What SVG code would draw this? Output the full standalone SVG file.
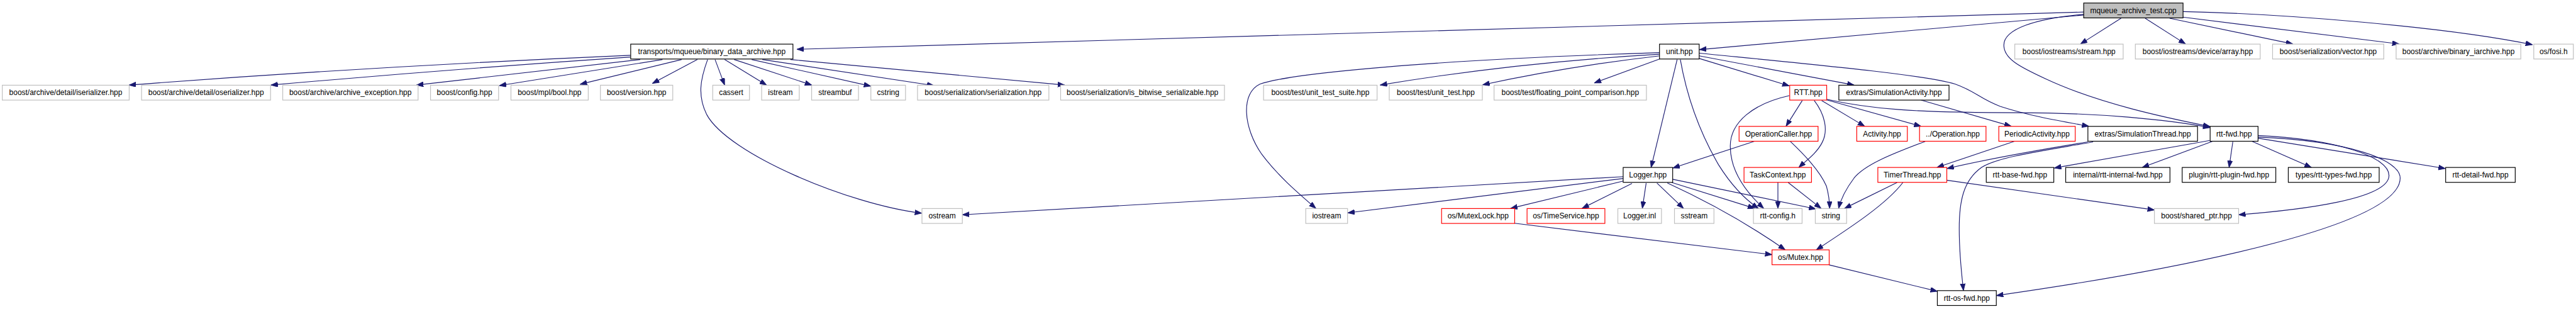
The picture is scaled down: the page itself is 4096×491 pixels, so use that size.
<svg xmlns="http://www.w3.org/2000/svg" width="4096" height="491" viewBox="0 0 4096 491">
<defs>
<style>
.e{fill:none;stroke:#191970;stroke-width:1.35;marker-end:url(#ah)}
.n rect{fill:#fff;stroke-width:1.4}
.g rect{stroke:#bfbfbf}
.b rect{stroke:#000}
.r rect{stroke:#ff0000}
.n text{font-family:"Liberation Sans",Arial,sans-serif;font-size:14.2px;fill:#000;text-anchor:middle}
</style>
<marker id="ah" markerUnits="userSpaceOnUse" viewBox="0 0 14 10" markerWidth="14" markerHeight="10" refX="13" refY="4.75" orient="auto"><path d="M0,0 L13,4.75 L0,9.5 z" fill="#191970" stroke="#191970" stroke-width="1"/></marker>
</defs>
<rect width="4096" height="491" fill="#fff"/>
<g transform="scale(0.84471)">
<g id="edges">
<path class="e" d="M3922,22.7 L1500,92.7"/>
<path class="e" d="M3922,28.3 L3199,93.3"/>
<path class="e" d="M3922,27 C3830,35 3772,55 3772,85 C3772,110 3800,125 3850,148 C3950,195 4080,222 4160,238"/>
<path class="e" d="M3992.6,34.3 L3916.3,82.7"/>
<path class="e" d="M4038,34.3 L4114,82.7"/>
<path class="e" d="M4084,34.3 L4316,82.7"/>
<path class="e" d="M4109,32.3 L4516,82.7"/>
<path class="e" d="M4109,21.7 C4300,26 4600,50 4767,84"/>
<path class="e" d="M1187,104 Q700,125 243,160"/>
<path class="e" d="M1187,107.3 Q850,130 510,160"/>
<path class="e" d="M1205,112 L784,160"/>
<path class="e" d="M1247,112 L940,161"/>
<path class="e" d="M1283,112 L1092,158.5"/>
<path class="e" d="M1312.7,112 L1228,157"/>
<path class="e" d="M1346,112 L1364,160"/>
<path class="e" d="M1364,112 L1443,160"/>
<path class="e" d="M1382,112 L1528,160"/>
<path class="e" d="M1415,112 L1639,162"/>
<path class="e" d="M1435,112 L1758,161"/>
<path class="e" d="M1488,112 L2004,160"/>
<path class="e" d="M1332,112 C1318,150 1313,180 1330,215 C1370,290 1600,385 1735,401"/>
<path class="e" d="M3124,99 C2700,112 2430,138 2372,158 C2335,175 2340,240 2375,290 C2405,330 2440,360 2477,392"/>
<path class="e" d="M3124,102 Q2850,118 2598,160"/>
<path class="e" d="M3124,105 Q2950,125 2791,159.5"/>
<path class="e" d="M3124,111 L3001,156"/>
<path class="e" d="M3157,112 L3108,315"/>
<path class="e" d="M3163,112 C3175,180 3200,250 3235,310 C3260,350 3285,375 3310,392"/>
<path class="e" d="M3198.5,110 L3368,161.5"/>
<path class="e" d="M3198.5,105 L3490,160"/>
<path class="e" d="M3198.5,100 C3400,120 3620,140 3680,158 C3720,172 3725,185 3765,200 C3820,218 3880,228 3932,237.5"/>
<path class="e" d="M3392.6,189 L3362,237.5"/>
<path class="e" d="M3368,180 C3300,195 3257,230 3257,275 C3257,320 3285,360 3320,392"/>
<path class="e" d="M3415,189 C3435,215 3442,245 3430,268 C3420,288 3400,302 3386,315"/>
<path class="e" d="M3429,189 L3510,237.5"/>
<path class="e" d="M3438.5,188 L3616,237.5"/>
<path class="e" d="M3438.5,186.7 C3520,205 3600,212 3800,212 C3950,212 4080,225 4160,240"/>
<path class="e" d="M3616,188.3 L3786,237.5"/>
<path class="e" d="M3302.5,265.7 L3149,316"/>
<path class="e" d="M3370,266 C3395,290 3425,320 3438,350 C3442,365 3444,378 3444,392"/>
<path class="e" d="M3624,266 C3560,290 3510,310 3490,335 C3475,355 3465,375 3461,392"/>
<path class="e" d="M3792,265.7 L3646,315"/>
<path class="e" d="M3930,267 C3850,280 3760,295 3665,317"/>
<path class="e" d="M3940,267 C3850,283 3760,295 3730,315 C3695,340 3688,380 3688,430 C3688,480 3693,520 3696,546.7"/>
<path class="e" d="M4159.5,264.3 L3867,316"/>
<path class="e" d="M4165,265.7 L4032.5,315"/>
<path class="e" d="M4203,266.7 L4196,315"/>
<path class="e" d="M4239,265.7 L4351,315"/>
<path class="e" d="M4250.5,260 L4603,317"/>
<path class="e" d="M4250,255 C4400,262 4497,295 4497,330 C4497,375 4330,395 4214,404"/>
<path class="e" d="M4250,258 C4420,265 4518,300 4518,335 C4518,420 4150,500 3758,556"/>
<path class="e" d="M3346.7,343.3 L3346.7,392"/>
<path class="e" d="M3366,343.3 L3428,392"/>
<path class="e" d="M3571,343.3 L3472,392"/>
<path class="e" d="M3582,343.3 C3550,385 3480,430 3419,470"/>
<path class="e" d="M3664.6,339 L4055.4,395"/>
<path class="e" d="M3055.4,332.3 L1811.5,404"/>
<path class="e" d="M3055.4,335.7 L2537,400.5"/>
<path class="e" d="M3055.4,340.7 L2843.5,392"/>
<path class="e" d="M3072,345 L2978,392"/>
<path class="e" d="M3098.7,344.3 L3091.5,392"/>
<path class="e" d="M3119,344.3 L3169,392"/>
<path class="e" d="M3138.6,344.3 Q3260,400 3360.5,470"/>
<path class="e" d="M3147,343.3 L3303,392"/>
<path class="e" d="M3148.6,337.3 L3418,393"/>
<path class="e" d="M2851,420 L3335.6,479"/>
<path class="e" d="M3443,498.3 L3646.8,548"/>
</g>
<g id="n_mqueue" class="n b"><rect x="3922.3" y="5.7" width="187" height="28" style="fill:#bfbfbf"/><text x="4015.8" y="24.7">mqueue_archive_test.cpp</text></g>
<g id="n_bda" class="n b"><rect x="1187.2" y="83" width="305.4" height="28"/><text x="1339.9" y="102">transports/mqueue/binary_data_archive.hpp</text></g>
<g id="n_unit" class="n b"><rect x="3123.8" y="83" width="74.7" height="28"/><text x="3161.2" y="102">unit.hpp</text></g>
<g id="n_stream" class="n g"><rect x="3792.6" y="83" width="204" height="28"/><text x="3894.6" y="102">boost/iostreams/stream.hpp</text></g>
<g id="n_array" class="n g"><rect x="4019.5" y="83" width="235.1" height="28"/><text x="4137" y="102">boost/iostreams/device/array.hpp</text></g>
<g id="n_vector" class="n g"><rect x="4277.8" y="83" width="209.4" height="28"/><text x="4382.5" y="102">boost/serialization/vector.hpp</text></g>
<g id="n_biarchive" class="n g"><rect x="4510.4" y="83" width="234.7" height="28"/><text x="4627.7" y="102">boost/archive/binary_iarchive.hpp</text></g>
<g id="n_fosi" class="n g"><rect x="4769.5" y="83" width="74.5" height="28"/><text x="4806.7" y="102">os/fosi.h</text></g>
<g id="n_iser" class="n g"><rect x="4.3" y="160.3" width="238.9" height="28"/><text x="123.7" y="179.3">boost/archive/detail/iserializer.hpp</text></g>
<g id="n_oser" class="n g"><rect x="266.5" y="160.3" width="242.8" height="28"/><text x="387.9" y="179.3">boost/archive/detail/oserializer.hpp</text></g>
<g id="n_aexc" class="n g"><rect x="532.2" y="160.3" width="254.8" height="28"/><text x="659.6" y="179.3">boost/archive/archive_exception.hpp</text></g>
<g id="n_config" class="n g"><rect x="810.4" y="160.3" width="128.1" height="28"/><text x="874.4" y="179.3">boost/config.hpp</text></g>
<g id="n_bool" class="n g"><rect x="961.8" y="160.3" width="145.5" height="28"/><text x="1034.5" y="179.3">boost/mpl/bool.hpp</text></g>
<g id="n_version" class="n g"><rect x="1130.2" y="160.3" width="136.2" height="28"/><text x="1198.3" y="179.3">boost/version.hpp</text></g>
<g id="n_cassert" class="n g"><rect x="1341.6" y="160.3" width="69.2" height="28"/><text x="1376.2" y="179.3">cassert</text></g>
<g id="n_istream" class="n g"><rect x="1433.7" y="160.3" width="70.8" height="28"/><text x="1469.1" y="179.3">istream</text></g>
<g id="n_streambuf" class="n g"><rect x="1527.8" y="160.3" width="88.2" height="28"/><text x="1571.9" y="179.3">streambuf</text></g>
<g id="n_cstring" class="n g"><rect x="1639.3" y="160.3" width="65.2" height="28"/><text x="1671.9" y="179.3">cstring</text></g>
<g id="n_serial" class="n g"><rect x="1727.1" y="160.3" width="247.3" height="28"/><text x="1850.7" y="179.3">boost/serialization/serialization.hpp</text></g>
<g id="n_bitwise" class="n g"><rect x="1996.5" y="160.3" width="308.4" height="28"/><text x="2150.7" y="179.3">boost/serialization/is_bitwise_serializable.hpp</text></g>
<g id="n_uts" class="n g"><rect x="2378.5" y="160.3" width="213.7" height="28"/><text x="2485.3" y="179.3">boost/test/unit_test_suite.hpp</text></g>
<g id="n_ut" class="n g"><rect x="2615.1" y="160.3" width="175.2" height="28"/><text x="2702.7" y="179.3">boost/test/unit_test.hpp</text></g>
<g id="n_fpc" class="n g"><rect x="2812.4" y="160.3" width="286.8" height="28"/><text x="2955.8" y="179.3">boost/test/floating_point_comparison.hpp</text></g>
<g id="n_rtt" class="n r"><rect x="3368.9" y="160.3" width="69.6" height="28"/><text x="3403.7" y="179.3">RTT.hpp</text></g>
<g id="n_simact" class="n b"><rect x="3461.4" y="160.3" width="207.4" height="28"/><text x="3565.1" y="179.3">extras/SimulationActivity.hpp</text></g>
<g id="n_opcaller" class="n r"><rect x="3273.6" y="237.7" width="148.7" height="28"/><text x="3347.9" y="256.7">OperationCaller.hpp</text></g>
<g id="n_activity" class="n r"><rect x="3495.1" y="237.7" width="95.2" height="28"/><text x="3542.7" y="256.7">Activity.hpp</text></g>
<g id="n_operation" class="n r"><rect x="3613.3" y="237.7" width="125.1" height="28"/><text x="3675.8" y="256.7">../Operation.hpp</text></g>
<g id="n_periodic" class="n r"><rect x="3762.5" y="237.7" width="143.9" height="28"/><text x="3834.4" y="256.7">PeriodicActivity.hpp</text></g>
<g id="n_simthread" class="n b"><rect x="3930.2" y="237.7" width="206.4" height="28"/><text x="4033.4" y="256.7">extras/SimulationThread.hpp</text></g>
<g id="n_rttfwd" class="n b"><rect x="4160.3" y="237.7" width="90.2" height="28"/><text x="4205.4" y="256.7">rtt-fwd.hpp</text></g>
<g id="n_logger" class="n b"><rect x="3055.4" y="315" width="93.2" height="28"/><text x="3102" y="334">Logger.hpp</text></g>
<g id="n_taskctx" class="n r"><rect x="3282.9" y="315" width="127" height="28"/><text x="3346.4" y="334">TaskContext.hpp</text></g>
<g id="n_timer" class="n r"><rect x="3534.8" y="315" width="129.8" height="28"/><text x="3599.7" y="334">TimerThread.hpp</text></g>
<g id="n_basefwd" class="n b"><rect x="3738.9" y="315" width="127.1" height="28"/><text x="3802.4" y="334">rtt-base-fwd.hpp</text></g>
<g id="n_internalfwd" class="n b"><rect x="3888.4" y="315" width="196.3" height="28"/><text x="3986.5" y="334">internal/rtt-internal-fwd.hpp</text></g>
<g id="n_pluginfwd" class="n b"><rect x="4107.7" y="315" width="176.2" height="28"/><text x="4195.8" y="334">plugin/rtt-plugin-fwd.hpp</text></g>
<g id="n_typesfwd" class="n b"><rect x="4307.4" y="315" width="171.1" height="28"/><text x="4392.9" y="334">types/rtt-types-fwd.hpp</text></g>
<g id="n_detailfwd" class="n b"><rect x="4603.6" y="315" width="131" height="28"/><text x="4669.1" y="334">rtt-detail-fwd.hpp</text></g>
<g id="n_ostream" class="n g"><rect x="1735.5" y="392.3" width="76" height="28"/><text x="1773.5" y="411.3">ostream</text></g>
<g id="n_iostream" class="n g"><rect x="2457.9" y="392.3" width="78.7" height="28"/><text x="2497.2" y="411.3">iostream</text></g>
<g id="n_mutexlock" class="n r"><rect x="2713.6" y="392.3" width="137.6" height="28"/><text x="2782.4" y="411.3">os/MutexLock.hpp</text></g>
<g id="n_timeservice" class="n r"><rect x="2874.5" y="392.3" width="146.5" height="28"/><text x="2947.7" y="411.3">os/TimeService.hpp</text></g>
<g id="n_loggerinl" class="n g"><rect x="3045.4" y="392.3" width="82.1" height="28"/><text x="3086.4" y="411.3">Logger.inl</text></g>
<g id="n_sstream" class="n g"><rect x="3152" y="392.3" width="74.3" height="28"/><text x="3189.1" y="411.3">sstream</text></g>
<g id="n_rttconfig" class="n g"><rect x="3300.6" y="392.3" width="91.6" height="28"/><text x="3346.4" y="411.3">rtt-config.h</text></g>
<g id="n_string" class="n g"><rect x="3417.1" y="392.3" width="58.9" height="28"/><text x="3446.5" y="411.3">string</text></g>
<g id="n_sharedptr" class="n g"><rect x="4055.4" y="392.3" width="158.5" height="28"/><text x="4134.6" y="411.3">boost/shared_ptr.hpp</text></g>
<g id="n_mutex" class="n r"><rect x="3335.6" y="470" width="107.6" height="28"/><text x="3389.4" y="489">os/Mutex.hpp</text></g>
<g id="n_osfwd" class="n b"><rect x="3646.8" y="546.7" width="111" height="28"/><text x="3702.3" y="565.7">rtt-os-fwd.hpp</text></g>
</g>
</svg>
